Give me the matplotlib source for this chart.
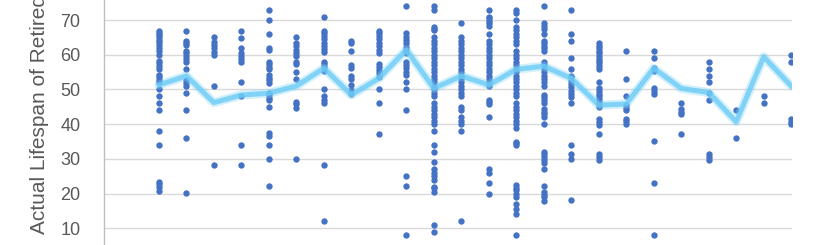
import matplotlib
matplotlib.use("Agg")
import matplotlib.pyplot as plt

plt.rcParams['font.family'] = ['Liberation Sans', 'DejaVu Sans']

# x positions of the groups (index of each column)
group_pos = list(range(24))

c00 = [66.9, 66.3, 65.7, 65, 64.2, 63.6, 62.8, 62, 61.2, 59.9, 58.2, 57.5, 56.8, 55.9, 54.1, 53.5, 52.7, 52,
       50.1, 48.1, 46.2, 44, 38.1, 33.9, 23.4, 22.7, 21.9, 20.8]
c01 = [66.9, 64, 63.5, 62.8, 61.2, 60.4, 59.6, 58.8, 58, 55.9, 52.7, 51.9, 51, 49, 44, 36.1, 20.2]
c02 = [65, 63.8, 62.8, 61.8, 60.9, 59.9, 51, 28.2]
c03 = [66.9, 64.9, 62, 60.4, 59.6, 58.7, 57.9, 52.2, 48.1, 33.9, 28.2]
c04 = [72.9, 70, 66, 62, 61.3, 58, 57.3, 56.5, 55.8, 54.1, 53.4, 52.7, 51.9, 49, 48.3, 47.4, 46.9, 45,
       37.5, 36.5, 33.9, 29.9, 22.2]
c05 = [65, 63.5, 62.5, 61.5, 60.6, 59.6, 58, 57.3, 55.1, 53, 46.4, 45.7, 44.8, 29.9]
c06 = [71, 66.9, 66.2, 65.4, 64.4, 63.5, 62.5, 61.6, 60.9, 58, 57.3, 56.5, 55.3, 50.1, 48.1, 47.1, 46.2,
       28.2, 12.1]
c07 = [64, 63.3, 61.2, 57, 56.1, 53.8, 52.9, 51.3, 49.8, 48.8]
c08 = [66.9, 66.2, 65.4, 64.4, 63.5, 62.5, 61.5, 60.6, 57.3, 56.5, 55.6, 54.6, 53.5, 50.1, 46.2, 37.1]
c09 = [74, 66.2, 65.2, 64.2, 63.3, 62.3, 61.3, 60.4, 58, 57, 56.1, 55.1, 54.1, 52.2, 50.1, 44, 25.1, 22.2, 8]
c10 = [74, 73, 68, 67.5, 67, 65, 64, 63, 62, 61, 60, 59, 58, 57, 56, 55, 54, 53, 52, 51, 50, 49, 48,
       46, 45, 44, 43, 42, 41, 40, 38, 34, 32, 29, 27, 26, 25, 24, 22, 21.5, 20.5, 11, 9]
c11 = [69, 65, 64, 63, 62, 61, 60, 59, 58, 57, 56, 55, 54, 53, 52, 51, 50, 49, 48, 45, 44, 42, 41, 40, 38, 12]
c12 = [73, 71, 70.5, 69.8, 69, 68.3, 66, 64, 63, 62, 61, 60, 59, 58, 57, 56, 55, 54, 53, 52, 51,
       47, 46.4, 45.8, 42, 27, 26, 23, 20]
c13 = [73, 72, 70, 68, 67, 66, 65, 64, 63, 61, 60, 59, 58, 57, 56, 55, 54, 53, 52, 51, 50, 49, 48,
       46, 45, 44, 43, 42, 41, 40, 39, 35, 34.5, 34, 22.5, 21.5, 21, 20, 19, 17, 15.5, 14, 8]
c14 = [74, 69, 68.3, 67.5, 66, 64, 63.5, 62.5, 62, 61, 58, 57, 56, 55, 54, 53, 52, 51, 48.4, 47.7, 47, 46,
       44.5, 43.6, 42.8, 42, 40, 32, 31.3, 30.6, 29.8, 28.8, 27, 22.2, 20.5, 19.7, 19, 18]
c15 = [73, 66, 64, 59, 56, 54, 53.5, 52.5, 51.5, 50.6, 49.6, 48.7, 47.9, 46.2, 33.9, 31.3, 30.1, 18.1]
c16 = [63.3, 62.5, 61.8, 61, 60.4, 59.6, 58.9, 58.2, 57.5, 56.7, 55.9, 52.2, 50.3, 49.6, 48.8, 48.1, 47.3,
       46.4, 45.7, 45, 41.4, 40.7, 39.9, 37.1, 31.3, 30.6, 29.8]
c17 = [61.2, 53, 48.1, 45.5, 44.8, 44, 41.6, 40.9, 40]
c18 = [61.2, 59.1, 56.1, 55.3, 50.3, 49.6, 48.8, 35.2, 23.1, 8]
c19 = [46.2, 44.5, 43.6, 42.9, 37.1]
c20 = [58, 55.9, 54, 52.2, 49, 46.9, 31.3, 30.6, 29.8]
c21 = [44, 36.1]
c22 = [48.1, 46.2]
c23 = [59.9, 57.9, 41.4, 40.7, 40]

mean_line = [51.3, 53.9, 46.2, 48.4, 48.9, 51, 56.1, 48.4, 53.2, 61.4, 50.3, 53.9, 51.3, 55.8,
             56.7, 53.2, 45.5, 45.8, 56.1, 50.3, 49.1, 40.7, 59.4, 51]

y_ticks = [10, 20, 30, 40, 50, 60, 70]
y_label = "Actual Lifespan of Retired Players"

groups = [c00, c01, c02, c03, c04, c05, c06, c07, c08, c09, c10, c11,
          c12, c13, c14, c15, c16, c17, c18, c19, c20, c21, c22, c23]

W, H = 836, 245
fig = plt.figure(figsize=(W / 100, H / 100), dpi=100)
ax = fig.add_axes([104 / W, 0, (792 - 104) / W, 1])

for x, vals in zip(group_pos, groups):
    ax.scatter([x] * len(vals), vals, s=21, color='#4472C4', linewidths=0, zorder=3)

# mean line with soft glow
ax.plot(group_pos, mean_line, color='#7fd3f7', lw=6.5, alpha=0.35, zorder=4, solid_capstyle='round')
ax.plot(group_pos, mean_line, color='#6ccdf6', lw=3.6, alpha=0.8, zorder=5, solid_joinstyle='round')

ax.set_xlim(-2.0, 23.03)
ax.set_ylim(5.2, 75.76)
ax.set_yticks(y_ticks)
ax.set_yticklabels([str(t) for t in y_ticks], fontsize=13, color='#595959')
ax.tick_params(axis='y', length=0, pad=17)
ax.set_xticks([])
ax.grid(axis='y', color='#d9d9d9', lw=1)
ax.set_axisbelow(True)
for s in ['top', 'right', 'bottom']:
    ax.spines[s].set_visible(False)
ax.spines['left'].set_color('#bfbfbf')
ax.spines['left'].set_linewidth(1)

fig.text(40 / W, 1 - 234 / H, y_label, rotation=90, ha='center', va='bottom',
         fontsize=15, color='#595959')

fig.savefig('out.png', dpi=100)
